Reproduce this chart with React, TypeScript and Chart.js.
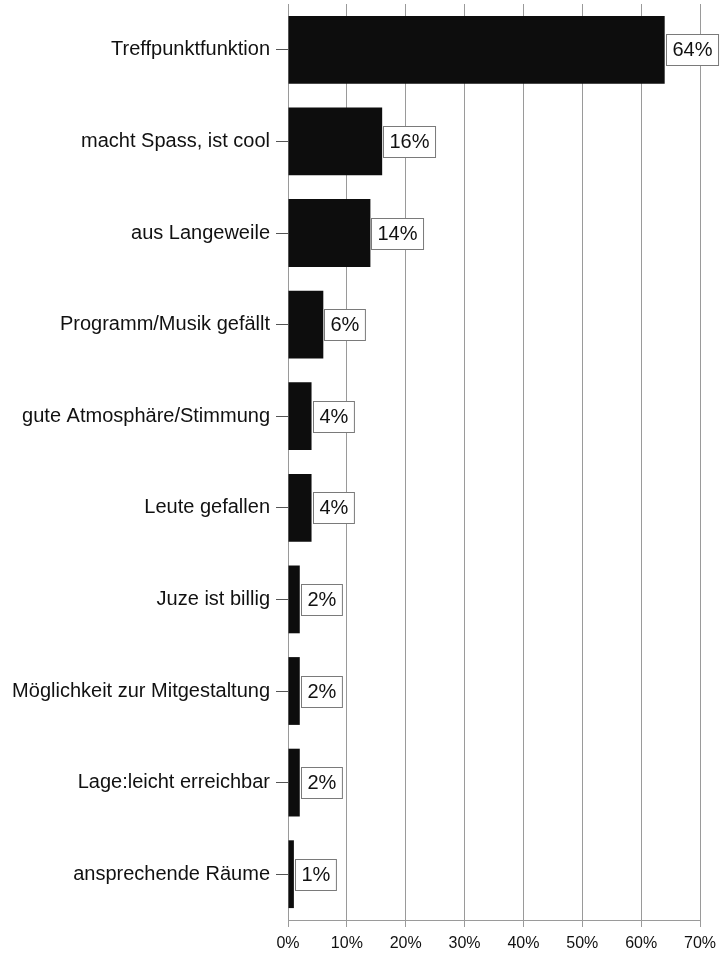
import React, { useEffect, useRef } from "react";
import { Chart, registerables } from "chart.js";

Chart.register(...registerables);

const categories = [
  "Treffpunktfunktion",
  "macht Spass, ist cool",
  "aus Langeweile",
  "Programm/Musik gefällt",
  "gute Atmosphäre/Stimmung",
  "Leute gefallen",
  "Juze ist billig",
  "Möglichkeit zur Mitgestaltung",
  "Lage:leicht erreichbar",
  "ansprechende Räume",
];
const values = [64, 16, 14, 6, 4, 4, 2, 2, 2, 1];
const xMax = 70;
const xStep = 10;

const FONT = 'Arial, "Liberation Sans", Helvetica, sans-serif';

const labelBoxes = {
  id: "labelBoxes",
  afterDatasetsDraw(chart: any) {
    const ctx = chart.ctx;
    const meta = chart.getDatasetMeta(0);
    ctx.save();
    ctx.font = `20px ${FONT}`;
    ctx.textBaseline = "middle";
    ctx.textAlign = "left";
    meta.data.forEach((el: any, i: number) => {
      const txt = `${values[i]}%`;
      const w = ctx.measureText(txt).width + 12;
      const h = 31;
      const x0 = Math.round(el.x) + 1.5;
      const y0 = Math.round(el.y - h / 2) + 0.5;
      ctx.fillStyle = "#ffffff";
      ctx.fillRect(x0, y0, w, h);
      ctx.strokeStyle = "#7a7a7a";
      ctx.lineWidth = 1;
      ctx.strokeRect(x0, y0, w, h);
      ctx.fillStyle = "#111111";
      ctx.fillText(txt, x0 + 6, el.y + 1);
    });
    ctx.restore();
  },
};

const zeroPad = (scale: any) => {
  scale.paddingTop = 0;
  scale.paddingBottom = 0;
  scale.paddingLeft = 0;
  scale.paddingRight = 0;
};

export default function App() {
  const ref = useRef<HTMLCanvasElement>(null);
  useEffect(() => {
    if (!ref.current) return;
    Chart.defaults.font.family = FONT;
    const chart = new Chart(ref.current, {
      type: "bar",
      data: {
        labels: categories,
        datasets: [
          {
            data: values,
            backgroundColor: "#0d0d0d",
            borderWidth: 0,
            categoryPercentage: 1,
            barPercentage: 0.74,
          },
        ],
      },
      options: {
        indexAxis: "y",
        animation: false,
        responsive: false,
        maintainAspectRatio: false,
        layout: { padding: { top: 4, right: 21, left: 0, bottom: 0 } },
        plugins: {
          legend: { display: false },
          tooltip: { enabled: false },
        },
        scales: {
          x: {
            min: 0,
            max: xMax,
            ticks: {
              stepSize: xStep,
              color: "#111",
              font: { size: 16 },
              padding: 7,
              callback: (v: any) => `${v}%`,
            },
            grid: {
              color: "#9a9a9a",
              lineWidth: 1,
              drawTicks: true,
              tickLength: 7,
              tickColor: "#9a9a9a",
            },
            border: { display: true, color: "#9a9a9a" },
            afterFit: (scale: any) => {
              scale.height = 33;
              zeroPad(scale);
            },
          },
          y: {
            ticks: {
              color: "#111",
              font: { size: 20 },
              padding: 6,
              autoSkip: false,
            },
            grid: {
              offset: false,
              drawOnChartArea: false,
              drawTicks: true,
              tickLength: 12,
              tickColor: "#555",
            },
            border: { display: false },
            afterFit: (scale: any) => {
              scale.width = 288;
              zeroPad(scale);
            },
          },
        },
      },
      plugins: [labelBoxes],
    });
    return () => chart.destroy();
  }, []);
  return (
    <div style={{ position: "absolute", left: 0, top: 0, width: 721, height: 953, background: "#fff" }}>
      <canvas ref={ref} width={721} height={953} style={{ display: "block" }} />
    </div>
  );
}
